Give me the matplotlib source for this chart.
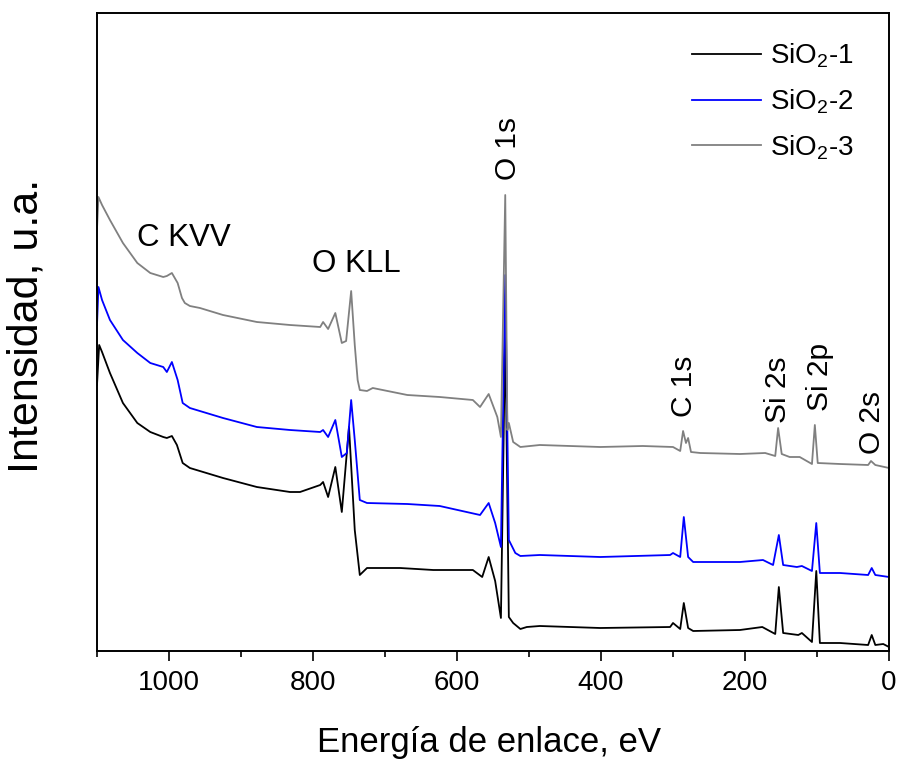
import matplotlib
matplotlib.use('Agg')
from matplotlib import pyplot as plt
from matplotlib.ticker import MultipleLocator

plt.rcParams['font.family'] = ['Liberation Sans', 'DejaVu Sans']
plt.rcParams['mathtext.fontset'] = 'custom'
plt.rcParams['mathtext.rm'] = 'Liberation Sans'
plt.rcParams['mathtext.it'] = 'Liberation Sans'

'''Survey spectra read off the picture (energy in eV, intensity in arbitrary units)'''
E_1 = [1100, 1097, 1093, 1082, 1064, 1044, 1026, 1008, 1003, 996, 989, 981, 971, 925, 878,
       832, 818, 790, 786, 779, 769, 760, 750, 742, 735, 725, 679, 633, 578, 565, 556, 547,
       539, 533, 528, 522, 512, 503, 485, 401, 304, 300, 290, 285, 279, 272, 207, 176, 158,
       153, 147, 126, 121, 107, 101, 96, 68, 29, 24, 19, 8, 0]
I_1 = [266, 306, 299, 278, 248, 228, 219, 214, 213, 215, 206, 188, 183, 173, 164,
       159, 159, 166, 169, 154, 184, 139, 224, 121, 76, 83, 83, 81, 81, 74, 94, 70,
       33, 321, 34, 28, 22, 24, 25, 23, 24, 28, 22, 48, 23, 20, 21, 24, 17,
       64, 18, 16, 18, 9, 80, 8, 8, 6, 16, 6, 7, 4]

E_2 = [1100, 1098, 1093, 1082, 1064, 1044, 1026, 1008, 1003, 996, 988, 981, 971, 925, 878,
       832, 790, 786, 779, 769, 760, 753, 747, 742, 735, 725, 669, 624, 568, 556, 547, 539,
       533, 528, 519, 512, 485, 401, 304, 300, 290, 285, 279, 272, 207, 175, 161, 153,
       147, 128, 121, 107, 101, 96, 68, 29, 24, 19, 0]
I_2 = [326, 364, 351, 331, 311, 298, 288, 284, 279, 289, 271, 248, 243, 233, 224,
       221, 219, 221, 214, 231, 194, 198, 251, 211, 151, 148, 147, 145, 136, 148, 128, 104,
       376, 111, 98, 95, 96, 94, 96, 98, 94, 134, 94, 89, 89, 91, 86, 116,
       86, 84, 85, 80, 128, 78, 78, 76, 83, 76, 74]

E_3 = [1100, 1098, 1093, 1082, 1064, 1044, 1026, 1008, 1003, 996, 988, 982, 978, 971, 957,
       925, 878, 832, 790, 786, 779, 769, 760, 754, 747, 742, 738, 735, 725, 717, 669, 624,
       578, 568, 556, 544, 539, 533, 530, 528, 522, 512, 485, 401, 342, 300, 290, 286, 282,
       279, 275, 262, 207, 172, 158, 154, 149, 138, 124, 107, 103, 99, 68, 29, 25, 19, 0]
I_3 = [422, 454, 446, 431, 408, 388, 378, 374, 375, 378, 368, 353, 348, 345, 343,
       336, 329, 326, 324, 329, 322, 338, 308, 310, 360, 306, 271, 261, 260, 263, 256, 254,
       251, 244, 257, 234, 214, 456, 221, 228, 209, 204, 206, 204, 205, 204, 200, 220, 208,
       213, 199, 198, 197, 198, 195, 223, 197, 194, 194, 187, 226, 188, 187, 186, 190, 186, 183]

'''Peak labels: text, energy, height'''
peak_labels = ['C KVV', 'O KLL', 'O 1s', 'C 1s', 'Si 2s', 'Si 2p', 'O 2s']
peak_E = [979, 740, 529, 285, 154, 96, 24]
peak_I = [413, 387, 503, 265, 261, 274, 228]
peak_rot = [0, 0, 90, 90, 90, 90, 90]

fig = plt.figure(figsize=(9.01, 7.59), dpi=100)
ax = fig.add_axes([97 / 901, 108 / 759, 792 / 901, 638 / 759])

ax.plot(E_1, I_1, color='#000000', lw=1.3, label=r'SiO$_2$-1')
ax.plot(E_2, I_2, color='#0000ff', lw=1.3, label=r'SiO$_2$-2')
ax.plot(E_3, I_3, color='#808080', lw=1.3, label=r'SiO$_2$-3')

for txt, e, i, r in zip(peak_labels, peak_E, peak_I, peak_rot):
    ax.text(e, i, txt, fontsize=22.5 if r == 0 else 21.5, rotation=r, ha='center', va='center')

ax.set_xlim(1100, 0)
ax.set_ylim(0, 638)
ax.xaxis.set_major_locator(MultipleLocator(200))
ax.xaxis.set_minor_locator(MultipleLocator(100))
ax.tick_params(axis='x', which='major', direction='out', length=7, width=1.2, labelsize=20, pad=7)
ax.tick_params(axis='x', which='minor', direction='out', length=4, width=1.2)
ax.set_yticks([])
for s in ax.spines.values():
    s.set_linewidth(1.4)

ax.set_xlabel('Energía de enlace, eV', fontsize=25)
ax.xaxis.set_label_coords(0.495, -0.117)
ax.set_ylabel('Intensidad, u.a.', fontsize=31)
ax.yaxis.set_label_coords(-0.064, 0.509)

ax.legend(loc='upper left', bbox_to_anchor=(0.751, 0.955), frameon=False, fontsize=20,
          handlelength=2.5, handletextpad=0.3, labelspacing=0.62, borderpad=0, borderaxespad=0)

plt.savefig('out.png', dpi=100)
